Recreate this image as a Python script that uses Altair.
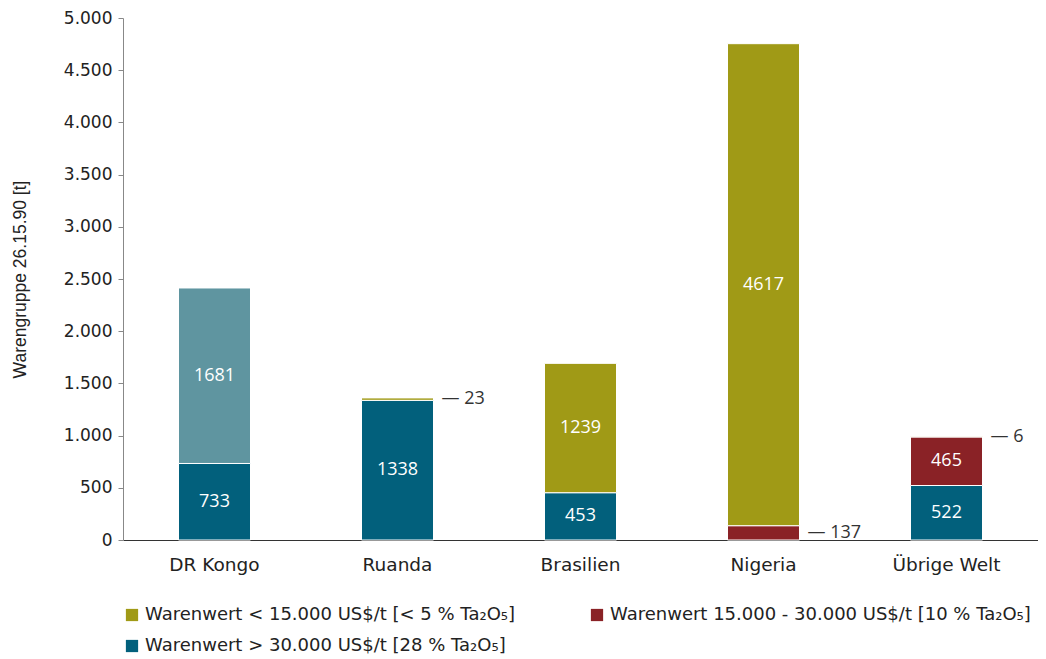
import altair as alt
import pandas as pd

countries = ["DR Kongo", "Ruanda", "Brasilien", "Nigeria", "Übrige Welt"]
s_low = "Warenwert < 15.000 US$/t [< 5 % Ta₂O₅]"
s_mid = "Warenwert 15.000 - 30.000 US$/t [10 % Ta₂O₅]"
s_high = "Warenwert > 30.000 US$/t [28 % Ta₂O₅]"
s_other = "DR Kongo (sonstige)"

high_vals = [733, 1338, 453, 0, 522]
other_vals = [1681, 0, 0, 0, 0]
mid_vals = [0, 0, 0, 137, 465]
low_vals = [0, 23, 1239, 4617, 6]

# stacking order (bottom to top)
stack_series = [s_high, s_other, s_mid, s_low]
stack_vals = [high_vals, other_vals, mid_vals, low_vals]

legend_domain = [s_low, s_mid, s_high, s_other]
legend_colors = ["#A09A16", "#8A2226", "#02607C", "#5F95A0"]

rows = []
for order, (s, vals) in enumerate(zip(stack_series, stack_vals)):
    for c, v in zip(countries, vals):
        if v > 0:
            rows.append({"country": c, "series": s, "value": v, "order": order})
df = pd.DataFrame(rows)

base = alt.Chart(df).transform_stack(
    stack="value", as_=["y0", "y1"], groupby=["country"],
    sort=[alt.SortField("order", order="ascending")]
).transform_calculate(mid="(datum.y0 + datum.y1) / 2")

x_enc = alt.X("country:N", sort=countries, title=None,
              scale=alt.Scale(paddingInner=0.0, paddingOuter=0.0),
              axis=alt.Axis(labelAngle=0, ticks=False, domainColor="#333333",
                            labelFontSize=18.5, labelColor="#222222", labelFont="DejaVu Sans",
                            labelPadding=15))

bars = base.mark_bar(size=72, stroke="white", strokeWidth=1).encode(
    x=x_enc,
    y=alt.Y("y0:Q", title="Warengruppe 26.15.90 [t]",
            scale=alt.Scale(domain=[0, 5000]),
            axis=alt.Axis(values=list(range(0, 5001, 500)), grid=False,
                          labelExpr="replace(format(datum.value, ',d'), ',', '.')",
                          labelFontSize=17, labelColor="#222222", labelFont="DejaVu Sans",
                          domainColor="#888888", tickColor="#888888", tickSize=5,
                          labelPadding=6,
                          titleFontSize=17.5, titleFontWeight="normal", titleColor="#222222",
                          titleFont="Liberation Sans", titlePadding=34)),
    y2="y1:Q",
    color=alt.Color("series:N", scale=alt.Scale(domain=legend_domain, range=legend_colors),
                    legend=alt.Legend(title=None, values=[s_low, s_mid, s_high],
                                      orient="none", legendX=0, legendY=588,
                                      direction="horizontal",
                                      columns=2, columnPadding=72, rowPadding=13,
                                      symbolType="square", symbolSize=150,
                                      symbolStrokeWidth=0,
                                      labelFontSize=18, labelFont="DejaVu Sans",
                                      labelColor="#222222", labelLimit=700)),
    order=alt.Order("order:Q"),
)

inside = base.transform_filter("datum.value >= 300").mark_text(
    color="white", fontSize=18, font="Open Sans"
).encode(x=alt.X("country:N", sort=countries), y="mid:Q", text="value:Q")

outside = base.transform_filter("datum.value < 300").transform_calculate(
    lab="'— ' + datum.value"
).mark_text(color="#333333", fontSize=18, font="Open Sans", align="left", dx=44).encode(
    x=alt.X("country:N", sort=countries), y="mid:Q", text="lab:N")

chart = alt.layer(bars, inside, outside).properties(
    width=915, height=522,
    autosize=alt.AutoSizeParams(type="none"),
    padding={"left": 115, "top": 10, "right": 0, "bottom": 120},
).configure_view(stroke=None)

chart.save("out.html", embed_options={"renderer": "svg", "actions": False})
